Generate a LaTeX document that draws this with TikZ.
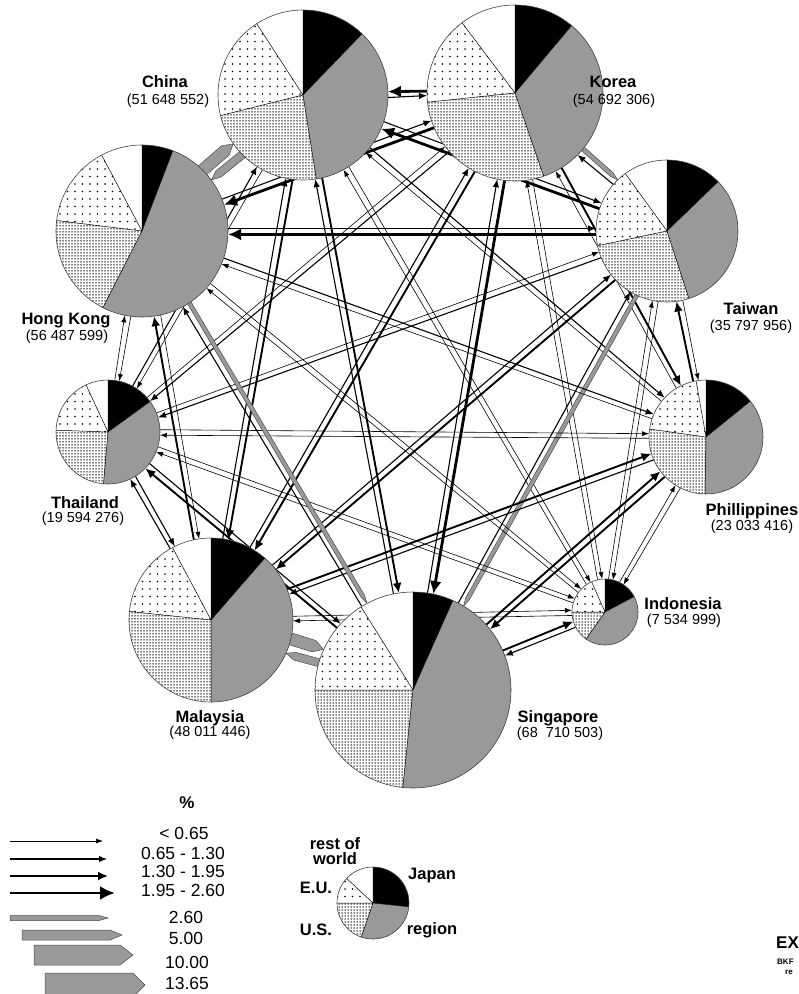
\documentclass[tikz,border=0pt]{standalone}
\usepackage{fontspec}
\setmainfont{Liberation Sans}
\usetikzlibrary{calc,arrows.meta,patterns}
\pgfdeclarepatternformonly{densedots}{\pgfqpoint{-1pt}{-1pt}}{\pgfqpoint{1pt}{1pt}}{\pgfqpoint{3pt}{3pt}}{\pgfpathcircle{\pgfqpoint{0pt}{0pt}}{0.75pt}\pgfusepath{fill}}
\pgfdeclarepatternformonly{sparsedots}{\pgfqpoint{-1pt}{-1pt}}{\pgfqpoint{1pt}{1pt}}{\pgfqpoint{7.5pt}{7.5pt}}{\pgfpathcircle{\pgfqpoint{0pt}{0pt}}{0.95pt}\pgfusepath{fill}}
\definecolor{rgray}{RGB}{153,153,153}
\def\fsign{1}
% black flow arrow: from, to, line width, tip length, tip width
\newcommand\flw[5]{%
 \draw[line width=#3pt,-{Latex[length=#4pt,width=#5pt]}] let \p1=(#1.center), \p2=(#2.center),
  \n1={atan2(\y2-(\y1),\x2-(\x1))}, \n2={\n1+180}, \n3={2+#3/2}, \n5={\n1+(\fsign)*90} in
  ($(#1.\n1)+(\n5:\n3pt)$) -- ($(#2.\n2)+(\n5:\n3pt)$);}
% grey flow arrow: from, to, width, tip length
\newcommand\gflw[4]{%
 \filldraw[garrow] let \p1=(#1.center), \p2=(#2.center),
  \n1={atan2(\y2-(\y1),\x2-(\x1))}, \n2={\n1+180}, \n3={1.5+#3/2}, \n4={#3/2},
  \n5={\n1+(\fsign)*90}, \n6={\n5+180} in
  ($(#1.\n1)+(\n5:\n3pt)+(\n5:\n4pt)+(\n2:15pt)$) --
  ($(#2.\n2)+(\n5:\n3pt)+(\n5:\n4pt)+(\n2:#4pt)$) --
  ($(#2.\n2)+(\n5:\n3pt)$) --
  ($(#2.\n2)+(\n5:\n3pt)+(\n6:\n4pt)+(\n2:#4pt)$) --
  ($(#1.\n1)+(\n5:\n3pt)+(\n6:\n4pt)+(\n2:15pt)$) -- cycle;}
\newcommand\fA[2]{\flw{#1}{#2}{0.6}{7}{5}}
\newcommand\fB[2]{\flw{#1}{#2}{1.1}{8}{6.5}}
\newcommand\fC[2]{\flw{#1}{#2}{1.9}{10}{9}}
\newcommand\fD[2]{\flw{#1}{#2}{2.8}{13}{12}}
% pie: node, radius, boundary angles
\newcommand\drawpie[6]{%
 \fill[white] (#1.center) circle[radius=#2pt];
 \fill[black] (#1.center) -- (#1.90) arc[start angle=90,end angle=#3,radius=#2pt] -- cycle;
 \fill[rgray] (#1.center) -- (#1.#3) arc[start angle=#3,end angle=#4,radius=#2pt] -- cycle;
 \fill[pattern=densedots] (#1.center) -- (#1.#4) arc[start angle=#4,end angle=#5,radius=#2pt] -- cycle;
 \fill[pattern=sparsedots] (#1.center) -- (#1.#5) arc[start angle=#5,end angle=#6,radius=#2pt] -- cycle;
 \draw[line width=0.5pt] (#1.90) -- (#1.center) -- (#1.#3) (#1.center) -- (#1.#4)
   (#1.center) -- (#1.#5) (#1.center) -- (#1.#6);
 \draw[line width=0.6pt,black!75] (#1.center) circle[radius=#2pt];}
\begin{document}
\begin{tikzpicture}[x=1pt,y=-1pt,
  pn/.style={circle,inner sep=0pt,outer sep=0pt,minimum size=#1},
  garrow/.style={fill=rgray,draw=black!70,line width=0.5pt},
  cname/.style={font=\bfseries\fontsize{16.5}{18}\selectfont,inner sep=0pt},
  cnum/.style={font=\fontsize{14.5}{16}\selectfont,inner sep=0pt},
  legtxt/.style={font=\fontsize{17.5}{18}\selectfont,inner sep=0pt},
  leglab/.style={font=\bfseries\fontsize{16.5}{15}\selectfont,inner sep=0pt,align=center}]
\useasboundingbox (0,0) rectangle (799,994);
\clip (0,0) rectangle (799,994);
% pie positions
\node[pn=170pt] (CN) at (303,95) {};
\node[pn=176pt] (KR) at (515,93) {};
\node[pn=142pt] (TW) at (667,231) {};
\node[pn=114pt] (PH) at (706,437) {};
\node[pn=66pt]  (ID) at (605,612) {};
\node[pn=196pt] (SG) at (413,690) {};
\node[pn=164pt] (MY) at (211,620) {};
\node[pn=104pt] (TH) at (108,432) {};
\node[pn=172pt] (HK) at (142,231) {};
% flows
{\def\fsign{-1}\fD{KR}{CN}\fB{CN}{KR}}
\fD{TW}{CN}\fB{CN}{TW}
\fB{CN}{PH}\fA{PH}{CN}
\fA{CN}{ID}\fA{ID}{CN}
\fC{CN}{SG}\fB{SG}{CN}
\fC{CN}{MY}\fB{MY}{CN}
\fA{CN}{TH}\fB{TH}{CN}
\gflw{HK}{CN}{12}{10}\gflw{CN}{HK}{8}{9}
\gflw{KR}{TW}{4.5}{8}\fB{TW}{KR}
\fC{KR}{PH}\fA{PH}{KR}
\fA{KR}{ID}\fA{ID}{KR}
\fD{KR}{SG}\fB{SG}{KR}
\fC{KR}{MY}\fB{MY}{KR}
\fB{KR}{TH}\fA{TH}{KR}
\fD{KR}{HK}\fB{HK}{KR}
\fC{PH}{TW}\fA{TW}{PH}
\fA{TW}{ID}\fA{ID}{TW}
\gflw{TW}{SG}{4}{8}\fB{SG}{TW}
\fC{TW}{MY}\fB{MY}{TW}
\fB{TW}{TH}\fA{TH}{TW}
\fD{TW}{HK}\fB{HK}{TW}
\fA{PH}{ID}\fA{ID}{PH}
\fC{PH}{SG}\fC{SG}{PH}
\fB{PH}{MY}\fC{MY}{PH}
\fA{PH}{TH}\fA{TH}{PH}
\fA{PH}{HK}\fB{HK}{PH}
\fC{SG}{ID}\fB{ID}{SG}
\fA{ID}{MY}\fA{MY}{ID}
\fA{ID}{TH}\fA{TH}{ID}
\fA{ID}{HK}\fA{HK}{ID}
\gflw{MY}{SG}{12}{10}\gflw{SG}{MY}{8}{9}
\fC{SG}{TH}\fB{TH}{SG}
\gflw{HK}{SG}{4}{8}\fB{SG}{HK}
\fB{TH}{MY}\fB{MY}{TH}
\fC{MY}{HK}\fA{HK}{MY}
\fA{TH}{HK}\fA{HK}{TH}
% pies
\drawpie{CN}{85}{46}{-81}{-166}{-237}
\drawpie{KR}{88}{50}{-71}{-174}{-233}
\drawpie{TW}{71}{44}{-72}{-168}{-234}
\drawpie{PH}{57}{39}{-91}{-188}{-260}
\drawpie{ID}{33}{28}{-125}{-180}{-246}
\drawpie{SG}{98}{66}{-96}{-180}{-238}
\drawpie{MY}{82}{49}{-90}{-186}{-242}
\drawpie{TH}{52}{36}{-95}{-182}{-245}
\drawpie{HK}{86}{69}{-117}{-187}{-242}
% labels
\node[cname] (lCN) at (165,82) {China};
\node[cnum]  (nCN) at (168,101) {(51 648 552)};
\node[cname] (lKR) at (613,82) {Korea};
\node[cnum]  (nKR) at (614,101) {(54 692 306)};
\node[cname] (lHK) at (66,321) {Hong Kong};
\node[cnum]  (nHK) at (67,337) {(56 487 599)};
\node[cname] (lTW) at (751,309) {Taiwan};
\node[cnum]  (nTW) at (751,327) {(35 797 956)};
\node[cname] (lTH) at (85,503) {Thailand};
\node[cnum]  (nTH) at (83,519) {(19 594 276)};
\node[cname] (lPH) at (752,511) {Phillippines};
\node[cnum]  (nPH) at (752,527) {(23 033 416)};
\node[cname] (lID) at (683,604) {Indonesia};
\node[cnum]  (nID) at (684,621) {(7 534 999)};
\node[cname] (lMY) at (210,718) {Malaysia};
\node[cnum]  (nMY) at (210,733) {(48 011 446)};
\node[cname] (lSG) at (558,718) {Singapore};
\node[cnum]  (nSG) at (560,734) {(68\ \ 710 503)};
% legend: flows
\node[font=\bfseries\fontsize{17}{18}\selectfont,inner sep=0pt] (pct) at (187,803) {\%};
\node[legtxt] (t1) at (184,833) {< 0.65};
\node[legtxt] (t2) at (183,853) {0.65 - 1.30};
\node[legtxt] (t3) at (183,871) {1.30 - 1.95};
\node[legtxt] (t4) at (183,890) {1.95 - 2.60};
\node[legtxt] (t5) at (186,917) {2.60};
\node[legtxt] (t6) at (186,938) {5.00};
\node[legtxt] (t7) at (187,962) {10.00};
\node[legtxt] (t8) at (187,983) {13.65};
\draw[line width=0.6pt,-{Latex[length=7pt,width=5pt]}] (10,841) -- (103,841);
\draw[line width=1.1pt,-{Latex[length=8pt,width=6.5pt]}] (10,859) -- (107,859);
\draw[line width=1.9pt,-{Latex[length=10pt,width=9pt]}] (10,876) -- (108,876);
\draw[line width=2.8pt,-{Latex[length=15pt,width=14pt]}] (10,893) -- (115,893);
\filldraw[garrow] (10,915.5) -- (99,915.5) -- (108,918) -- (99,920.5) -- (10,920.5) -- cycle;
\filldraw[garrow] (22,930) -- (110,930) -- (122,935) -- (110,940) -- (22,940) -- cycle;
\filldraw[garrow] (34,945) -- (120,945) -- (133,955) -- (120,965) -- (34,965) -- cycle;
\filldraw[garrow] (45,973) -- (133,973) -- (145,985) -- (133,997) -- (45,997) -- cycle;
% legend: pie
\node[pn=72pt] (LG) at (373,903) {};
\drawpie{LG}{36}{-6}{-109}{-180}{-223}
\node[leglab] (lrw) at (335,851) {rest of\\world};
\node[leglab] (ljp) at (432,876) {Japan};
\node[leglab] (leu) at (316,888) {E.U.};
\node[leglab] (lus) at (316,930) {U.S.};
\node[leglab] (lrg) at (432,930) {region};
% cut-off text at right edge
\node[font=\bfseries\fontsize{17}{18}\selectfont,inner sep=0pt,anchor=west] (ex) at (776,943) {EX};
\node[font=\bfseries\fontsize{8}{9}\selectfont,inner sep=0pt,anchor=west] (bkf) at (777,962) {BKF};
\node[font=\bfseries\fontsize{8}{9}\selectfont,inner sep=0pt,anchor=west] (re) at (785,972) {re};
\end{tikzpicture}
\end{document}
